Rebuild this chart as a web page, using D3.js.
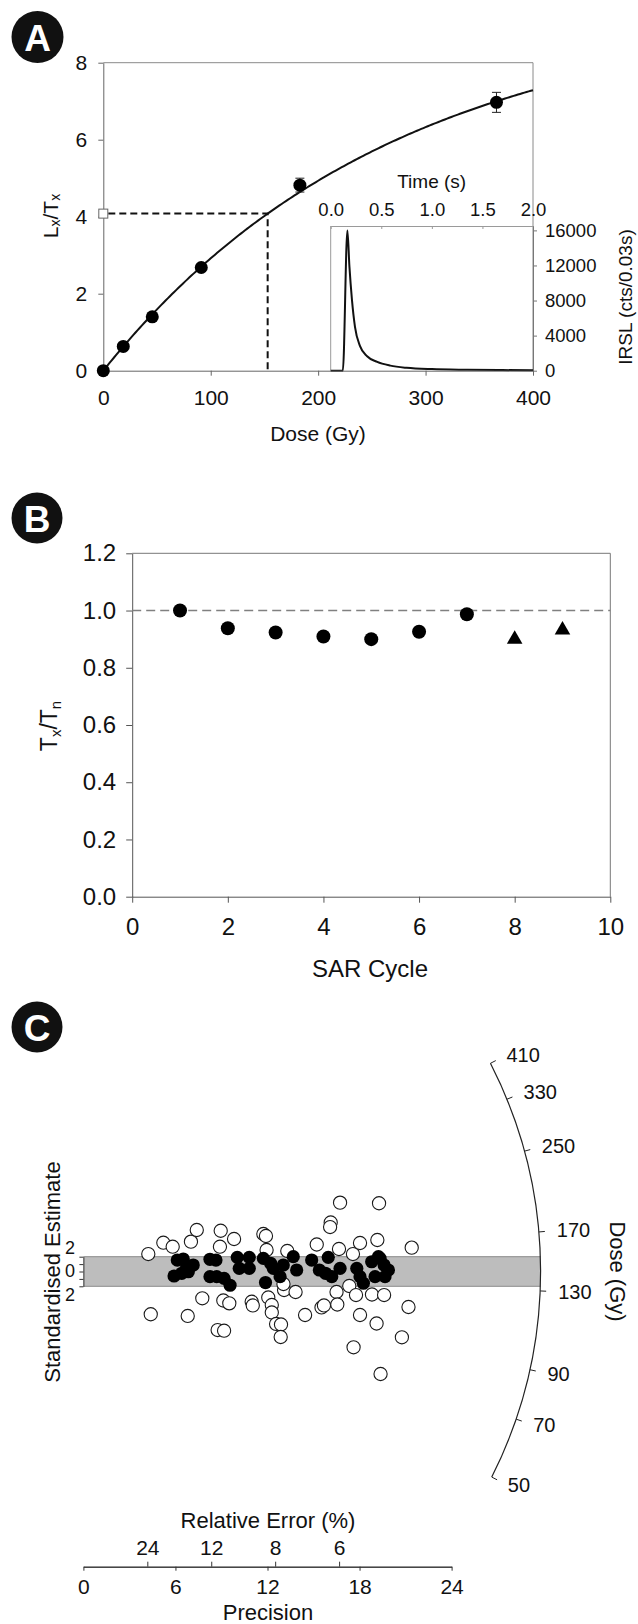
<!DOCTYPE html>
<html>
<head>
<meta charset="utf-8">
<script src="https://cdn.jsdelivr.net/npm/d3@7"></script>
<style>
  html, body { margin: 0; padding: 0; background: #fff; }
  svg { display: block; }
</style>
</head>
<body>
<svg id="fig" width="638" height="1624"></svg>
<script>
// ---------- Panel A: SAR dose-response curve ----------
const doseGy   = [0, 18.6, 45.6, 91.2, 183, 366];
const lxTx     = [0, 0.63, 1.40, 2.68, 4.82, 6.97];
const lxTxErr  = [0, 0, 0, 0, 0.18, 0.26];
// saturating-exponential fit  Lx/Tx = fitMax * (1 - exp(-D / fitD0))
const fitMax = 9.43, fitD0 = 270;
const naturalLnTn = 4.08;      // natural signal (open square)
const equivalentDose = 153;    // interpolated De (Gy)
const doseTicks = [0, 100, 200, 300, 400];
const lxTxTicks = [0, 2, 4, 6, 8];

// inset: IRSL shine-down
const irslTime   = [0, 0.12, 0.165, 0.185, 0.21, 0.24, 0.29, 0.36, 0.46, 0.59, 0.75, 1.0, 1.35, 1.7, 2.0];
const irslCounts = [0, 0, 16000, 11900, 8100, 5000, 2800, 1650, 1000, 580, 330, 180, 110, 70, 50];
const timeTicks = [0, 0.5, 1.0, 1.5, 2.0];
const irslTicks = [0, 4000, 8000, 12000, 16000];

// ---------- Panel B: sensitivity change ----------
const sarCycle   = [1, 2, 3, 4, 5, 6, 7];
const txTn       = [1.00, 0.938, 0.923, 0.909, 0.900, 0.926, 0.987];
const recycleCycle = [8, 9];
const recycleTxTn  = [0.900, 0.932];
const cycleTicks = [0, 2, 4, 6, 8, 10];
const ratioTicks = [0, 0.2, 0.4, 0.6, 0.8, 1.0, 1.2];

// ---------- Panel C: radial plot ----------
const centralDose = 142;   // Gy, centre of the shaded +/-2 band
const openPrecision = [4.23, 5.21, 5.82, 7.01, 7.39, 8.95, 9.82, 8.90, 11.73, 11.90, 11.94, 13.29, 15.21, 16.12, 16.08, 16.73, 19.27, 16.66, 17.57, 18.03, 19.16, 21.40,
  7.75, 9.12, 9.51, 10.97, 11.04, 4.39, 6.80, 8.75, 9.17, 12.05, 12.28, 12.28, 13.08, 13.83, 14.45, 15.52, 15.68, 16.50, 16.55, 17.33, 17.77, 18.03, 18.81, 19.60, 19.11, 21.19, 12.56, 12.88, 12.86, 17.61, 20.76, 19.37, 13.04];
const openZ = [2.36, 3.89, 3.35, 4.03, 5.61, 5.51, 4.39, 3.35, 5.07, 4.80, 2.91, 2.77, 3.65, 6.62, 6.01, 9.30, 9.22, 3.04, 2.36, 3.85, 4.26, 3.22,
  -3.62, -3.92, -4.30, -4.08, -4.59, -5.78, -6.01, -7.91, -8.00, -3.51, -4.53, -5.54, -2.50, -2.77, -5.88, -4.86, -4.59, -2.77, -4.46, -1.96, -3.18, -5.88, -3.11, -3.18, -7.03, -4.80, -7.09, -7.16, -8.85, -10.24, -8.89, -13.85, -1.69];
const filledPrecision = [6.12, 6.51, 6.73, 7.16, 5.91, 6.41, 6.84, 8.25, 8.64, 8.25, 8.69, 9.17, 9.56, 10.03, 10.16, 10.81, 10.81, 11.73, 11.87, 12.38,
  13.03, 13.68, 13.90, 12.82, 14.88, 15.38, 15.96, 16.19, 16.73, 17.82, 18.03, 18.25, 18.79, 19.34, 19.60, 19.88, 19.66, 19.01, 12.20, 15.78, 19.23];
const filledZ = [1.55, 1.69, 0.57, 0.88, -0.61, -0.24, -0.03, 1.65, 1.55, -0.70, -0.70, -0.92, -1.86, 1.92, 0.43, 1.92, 0.43, 1.78, -1.49, 0.43,
  0.88, 2.00, 0.20, -0.70, 1.55, 0.20, 1.92, -0.70, 0.43, 0.43, -0.70, -1.59, 1.32, 1.78, 0.88, 0.20, -0.70, -0.70, 1.11, -0.24, 2.00];
const arcDoseTicks   = [50, 70, 90, 130, 170, 250, 330, 410];
const precisionTicks = [0, 6, 12, 18, 24];
const relErrorTicks  = [24, 12, 8, 6];
const zTicks = [-2, -1, 0, 1, 2];

// ===================================================
const FONT = '"Liberation Sans", Arial, Helvetica, sans-serif';
const svg = d3.select("#fig").attr("font-family", FONT);

function styleAxis(g, fs, col) {
  g.attr("font-family", FONT).attr("font-size", fs);
  g.select(".domain").attr("stroke", col).attr("stroke-width", 1);
  g.selectAll(".tick line").attr("stroke", col).attr("stroke-width", 1);
  g.selectAll(".tick text").attr("fill", "#111");
  return g;
}

function badge(x, y, r, letter) {
  svg.append("circle").attr("cx", x).attr("cy", y).attr("r", r).attr("fill", "#111");
  svg.append("text").attr("x", x).attr("y", y + 1)
    .attr("text-anchor", "middle").attr("dominant-baseline", "central")
    .attr("font-size", 37).attr("font-weight", "bold").attr("fill", "#fff").text(letter);
}

// ---------------- Panel A ----------------
{
  const xA = d3.scaleLinear().domain([0, 400]).range([103.3, 533]);
  const yA = d3.scaleLinear().domain([0, 8]).range([370.7, 62.7]);
  const g = svg.append("g");

  // frame (top / right)
  g.append("path")
    .attr("d", `M${xA(0)},${yA(8)}H${xA(400)}V${yA(0)}`)
    .attr("fill", "none").attr("stroke", "#8a8a8a").attr("stroke-width", 1);

  // inset: IRSL decay
  const xT = d3.scaleLinear().domain([0, 2]).range([330.7, 533]);
  const yI = d3.scaleLinear().domain([0, 16500]).range([370.7, 226]);
  g.append("line").attr("x1", xT(0)).attr("x2", xT(0)).attr("y1", yI(0)).attr("y2", yI(16500))
    .attr("stroke", "#9a9a9a");
  styleAxis(g.append("g").attr("transform", `translate(0,${yI(16500)})`)
    .call(d3.axisTop(xT).tickValues(timeTicks).tickFormat(d3.format(".1f"))
      .tickSize(-3).tickSizeOuter(0).tickPadding(10)), 18.5, "#9a9a9a");
  styleAxis(g.append("g").attr("transform", `translate(${xT(2)},0)`)
    .call(d3.axisRight(yI).tickValues(irslTicks).tickFormat(d3.format("d"))
      .tickSize(4).tickSizeOuter(0).tickPadding(8)), 18.5, "#777");
  g.append("path")
    .datum(irslTime.map((t, i) => [t, irslCounts[i]]))
    .attr("d", d3.line().x(d => xT(d[0])).y(d => yI(d[1])).curve(d3.curveMonotoneX))
    .attr("fill", "none").attr("stroke", "#111").attr("stroke-width", 2);
  g.append("text").attr("x", 431.7).attr("y", 181).attr("text-anchor", "middle")
    .attr("dominant-baseline", "central").attr("font-size", 19).attr("fill", "#111").text("Time (s)");
  g.append("text").attr("transform", "translate(625,297) rotate(-90)").attr("text-anchor", "middle")
    .attr("dominant-baseline", "central").attr("font-size", 19).attr("fill", "#111").text("IRSL (cts/0.03s)");

  // axes
  styleAxis(g.append("g").attr("transform", `translate(${xA(0)},0)`)
    .call(d3.axisLeft(yA).tickValues(lxTxTicks).tickSize(5).tickSizeOuter(0).tickPadding(11)), 21, "#666");
  styleAxis(g.append("g").attr("transform", `translate(0,${yA(0)})`)
    .call(d3.axisBottom(xA).tickValues(doseTicks).tickSize(5).tickSizeOuter(0).tickPadding(14)), 21, "#666");

  // fitted curve
  const fit = d => fitMax * (1 - Math.exp(-d / fitD0));
  g.append("path")
    .datum(d3.range(0, 400.01, 2))
    .attr("d", d3.line().x(d => xA(d)).y(d => yA(fit(d))))
    .attr("fill", "none").attr("stroke", "#111").attr("stroke-width", 2);

  // De interpolation
  g.append("path")
    .attr("d", `M${xA(0) + 5},${yA(naturalLnTn)}H${xA(equivalentDose)}V${yA(0)}`)
    .attr("fill", "none").attr("stroke", "#111").attr("stroke-width", 2).attr("stroke-dasharray", "7,4");
  g.append("rect").attr("x", xA(0) - 4.5).attr("y", yA(naturalLnTn) - 4.5).attr("width", 9).attr("height", 9)
    .attr("fill", "#fff").attr("stroke", "#666").attr("stroke-width", 1);

  // regenerated points + error bars
  const pts = doseGy.map((d, i) => ({ d, v: lxTx[i], e: lxTxErr[i] }));
  const eb = g.append("g").attr("stroke", "#222").attr("stroke-width", 1);
  pts.filter(p => p.e > 0).forEach(p => {
    eb.append("line").attr("x1", xA(p.d)).attr("x2", xA(p.d)).attr("y1", yA(p.v - p.e)).attr("y2", yA(p.v + p.e));
    [p.v - p.e, p.v + p.e].forEach(v => eb.append("line")
      .attr("x1", xA(p.d) - 4.5).attr("x2", xA(p.d) + 4.5).attr("y1", yA(v)).attr("y2", yA(v)));
  });
  g.selectAll("circle.pa").data(pts).join("circle").attr("class", "pa")
    .attr("cx", p => xA(p.d)).attr("cy", p => yA(p.v)).attr("r", 6.5).attr("fill", "#000");

  // titles
  g.append("text").attr("x", 318).attr("y", 433).attr("text-anchor", "middle")
    .attr("dominant-baseline", "central").attr("font-size", 21).attr("fill", "#111").text("Dose (Gy)");
  const yl = g.append("text").attr("transform", "translate(50,216) rotate(-90)").attr("text-anchor", "middle")
    .attr("dominant-baseline", "central").attr("font-size", 21).attr("fill", "#111");
  yl.append("tspan").text("L");
  yl.append("tspan").attr("font-size", 14).attr("dy", 5).text("x");
  yl.append("tspan").attr("dy", -5).text("/T");
  yl.append("tspan").attr("font-size", 14).attr("dy", 5).text("x");

  badge(37.5, 37, 26, "A");
}

// ---------------- Panel B ----------------
{
  const xB = d3.scaleLinear().domain([0, 10]).range([132.2, 610.3]);
  const yB = d3.scaleLinear().domain([0, 1.2]).range([896.7, 553.3]);
  const g = svg.append("g");

  g.append("path").attr("d", `M${xB(0)},${yB(1.2)}H${xB(10)}V${yB(0)}`)
    .attr("fill", "none").attr("stroke", "#777").attr("stroke-width", 1);
  styleAxis(g.append("g").attr("transform", `translate(${xB(0)},0)`)
    .call(d3.axisLeft(yB).tickValues(ratioTicks).tickFormat(d3.format(".1f"))
      .tickSize(6).tickSizeOuter(0).tickPadding(10)), 24, "#555");
  styleAxis(g.append("g").attr("transform", `translate(0,${yB(0)})`)
    .call(d3.axisBottom(xB).tickValues(cycleTicks).tickSize(6).tickSizeOuter(0).tickPadding(15)), 24, "#555");

  g.append("line").attr("x1", xB(0)).attr("x2", xB(10)).attr("y1", yB(1)).attr("y2", yB(1))
    .attr("stroke", "#808080").attr("stroke-width", 1.6).attr("stroke-dasharray", "9,5");

  g.selectAll("circle.pb").data(sarCycle.map((c, i) => [c, txTn[i]])).join("circle").attr("class", "pb")
    .attr("cx", d => xB(d[0])).attr("cy", d => yB(d[1])).attr("r", 7).attr("fill", "#000");
  g.selectAll("path.tri").data(recycleCycle.map((c, i) => [c, recycleTxTn[i]])).join("path").attr("class", "tri")
    .attr("transform", d => `translate(${xB(d[0])},${yB(d[1])})`)
    .attr("d", d3.symbol(d3.symbolTriangle, 105)).attr("fill", "#000");

  g.append("text").attr("x", 370).attr("y", 968).attr("text-anchor", "middle")
    .attr("dominant-baseline", "central").attr("font-size", 24).attr("fill", "#111").text("SAR Cycle");
  const yl = g.append("text").attr("transform", "translate(49,726) rotate(-90)").attr("text-anchor", "middle")
    .attr("dominant-baseline", "central").attr("font-size", 23).attr("fill", "#111");
  yl.append("tspan").text("T");
  yl.append("tspan").attr("font-size", 15).attr("dy", 6).text("x");
  yl.append("tspan").attr("dy", -6).text("/T");
  yl.append("tspan").attr("font-size", 15).attr("dy", 6).text("n");

  badge(37, 518, 25.5, "B");
}

// ---------------- Panel C ----------------
{
  const xC = d3.scaleLinear().domain([0, 24]).range([83.4, 451.6]);
  const yC = d3.scaleLinear().domain([-2, 2]).range([1286.3, 1256.7]);
  const g = svg.append("g");

  const ox = xC(0), oy = yC(0);
  const kx = xC(1) - xC(0), ky = yC(0) - yC(1);
  const arcR = xC(29.8) - xC(0);
  const ang = d => Math.atan2(Math.log(d / centralDose) * ky, kx);
  const onArc = (d, r) => [ox + r * Math.cos(ang(d)), oy - r * Math.sin(ang(d))];

  // +/-2 band out to the dose arc
  g.append("rect").attr("x", ox).attr("y", yC(2)).attr("width", arcR).attr("height", yC(-2) - yC(2))
    .attr("fill", "#bdbdbd");
  [2, -2].forEach(v => g.append("line").attr("x1", ox).attr("x2", ox + arcR).attr("y1", yC(v)).attr("y2", yC(v))
    .attr("stroke", "#8c8c8c").attr("stroke-width", 1));

  // standardised estimate bracket
  g.append("g").attr("transform", `translate(${ox},0)`)
    .call(d3.axisLeft(yC).tickValues(zTicks).tickFormat("").tickSize(4).tickSizeOuter(0))
    .call(a => { a.select(".domain").attr("stroke", "#333"); a.selectAll(".tick line").attr("stroke", "#333"); });
  [[2, -9], [0, -1], [-2, 9]].forEach(([v, off]) => g.append("text")
    .attr("x", 70).attr("y", yC(v) + off).attr("text-anchor", "middle").attr("dominant-baseline", "central")
    .attr("font-size", 18).attr("fill", "#111").text(Math.abs(v)));
  g.append("text").attr("transform", "translate(52,1272) rotate(-90)").attr("text-anchor", "middle")
    .attr("dominant-baseline", "central").attr("font-size", 22).attr("fill", "#111").text("Standardised Estimate");

  // points
  g.selectAll("circle.op").data(openPrecision.map((p, i) => [p, openZ[i]])).join("circle").attr("class", "op")
    .attr("cx", d => xC(d[0])).attr("cy", d => yC(d[1])).attr("r", 6.6)
    .attr("fill", "#fff").attr("stroke", "#1a1a1a").attr("stroke-width", 1.1);
  g.selectAll("circle.fp").data(filledPrecision.map((p, i) => [p, filledZ[i]])).join("circle").attr("class", "fp")
    .attr("cx", d => xC(d[0])).attr("cy", d => yC(d[1])).attr("r", 6.6).attr("fill", "#000");

  // dose arc
  const [sx, sy] = onArc(arcDoseTicks[0], arcR);
  const [ex, ey] = onArc(arcDoseTicks[arcDoseTicks.length - 1], arcR);
  g.append("path").attr("d", `M${sx},${sy}A${arcR},${arcR} 0 0 0 ${ex},${ey}`)
    .attr("fill", "none").attr("stroke", "#222").attr("stroke-width", 1.2);
  arcDoseTicks.forEach(d => {
    const [x1, y1] = onArc(d, arcR), [x2, y2] = onArc(d, arcR + 6), [tx, ty] = onArc(d, arcR + 18);
    g.append("line").attr("x1", x1).attr("y1", y1).attr("x2", x2).attr("y2", y2).attr("stroke", "#222");
    g.append("text").attr("x", tx).attr("y", ty).attr("dominant-baseline", "central")
      .attr("font-size", 20).attr("fill", "#111").text(d);
  });
  g.append("text").attr("transform", `translate(617,${oy}) rotate(90)`).attr("text-anchor", "middle")
    .attr("dominant-baseline", "central").attr("font-size", 22).attr("fill", "#111").text("Dose (Gy)");

  // precision / relative error axis
  const axY = 1566.7;
  styleAxis(g.append("g").attr("transform", `translate(0,${axY})`)
    .call(d3.axisBottom(xC).tickValues(precisionTicks).tickSize(4).tickSizeOuter(0).tickPadding(8)), 21, "#333");
  styleAxis(g.append("g").attr("transform", `translate(0,${axY})`)
    .call(d3.axisTop(xC).tickValues(relErrorTicks.map(r => 100 / r))
      .tickFormat((d, i) => relErrorTicks[i]).tickSize(5).tickSizeOuter(0).tickPadding(7)), 21, "#333");
  g.append("text").attr("x", 268).attr("y", 1520).attr("text-anchor", "middle")
    .attr("dominant-baseline", "central").attr("font-size", 22).attr("fill", "#111").text("Relative Error (%)");
  g.append("text").attr("x", 268).attr("y", 1612).attr("text-anchor", "middle")
    .attr("dominant-baseline", "central").attr("font-size", 22).attr("fill", "#111").text("Precision");

  badge(37, 1027, 25.5, "C");
}
</script>
</body>
</html>
